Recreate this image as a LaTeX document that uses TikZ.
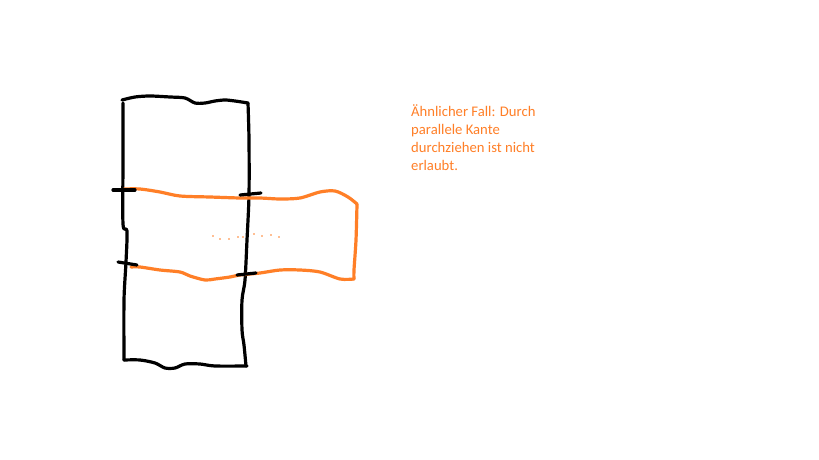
\documentclass[tikz,border=0pt]{standalone}
\usepackage{fontspec}
\setmainfont{Carlito}
\usepackage{xcolor}
\definecolor{paintorange}{RGB}{255,127,39}

\begin{document}
\begin{tikzpicture}[x=1pt, y=-1pt,
    pen/.style={line width=3.2pt, line cap=round, line join=round},
    blackpen/.style={pen, black},
    orangepen/.style={pen, paintorange},
    note/.style={anchor=north west, inner sep=0pt, align=left, text=paintorange,
        font=\fontsize{14.67}{18}\selectfont}]
    \fill[white] (0,0) rectangle (819,460);
    \useasboundingbox (0,0) rectangle (819,460);
    % black strip (top square over bottom square)
    \draw[blackpen] plot[smooth, tension=0.5] coordinates {(122,100) (135,97) (150,96) (170,97) (185,98) (195,103) (205,103) (215,101) (225,100) (235,101) (248,103)};
    \draw[blackpen] plot[smooth, tension=0.5] coordinates {(123,103) (123,160) (123,224) (127,231) (126,262) (124,300) (124,360)};
    \draw[blackpen] plot[smooth, tension=0.5] coordinates {(124,360) (140,360) (155,363) (165,368) (175,368) (185,364) (200,364) (215,366) (247,366)};
    \draw[blackpen] plot[smooth, tension=0.5] coordinates {(248,103) (249,140) (249,195) (247,240) (245,280) (242,300) (242,330) (244,345) (246,366)};
    % orange strip going through the parallel edge
    \draw[orangepen] plot[smooth, tension=0.5] coordinates {(124,189) (140,189) (160,192) (180,196) (210,197) (240,198) (260,198) (280,199) (300,198) (320,192) (335,191) (348,197) (357,204)};
    \draw[orangepen] plot[smooth, tension=0.5] coordinates {(357,204) (356,240) (354,270) (354,279)};
    \draw[orangepen] plot[smooth, tension=0.5] coordinates {(354,279) (340,279) (320,272) (300,270) (280,270) (260,273) (240,275) (230,277) (215,279) (205,280) (190,276) (180,272) (160,270) (140,267) (131,267)};
    % edge marks
    \draw[blackpen] (113,190) -- (135,190);
    \draw[blackpen] (240,195) -- (261,193);
    \draw[blackpen] (118,262) -- (137,265);
    \draw[blackpen] (237,275) -- (256,273);
    % dots
    \foreach \px/\py in {213/236, 220/239, 229/239, 238/237, 243/237, 254/234, 262/236, 271/235, 279/237}
        \fill[paintorange] (\px,\py) circle (0.9);
    \node[note] (remark) at (411,105) {Ähnlicher Fall: Durch\\parallele Kante\\durchziehen ist nicht\\erlaubt.};
\end{tikzpicture}
\end{document}
